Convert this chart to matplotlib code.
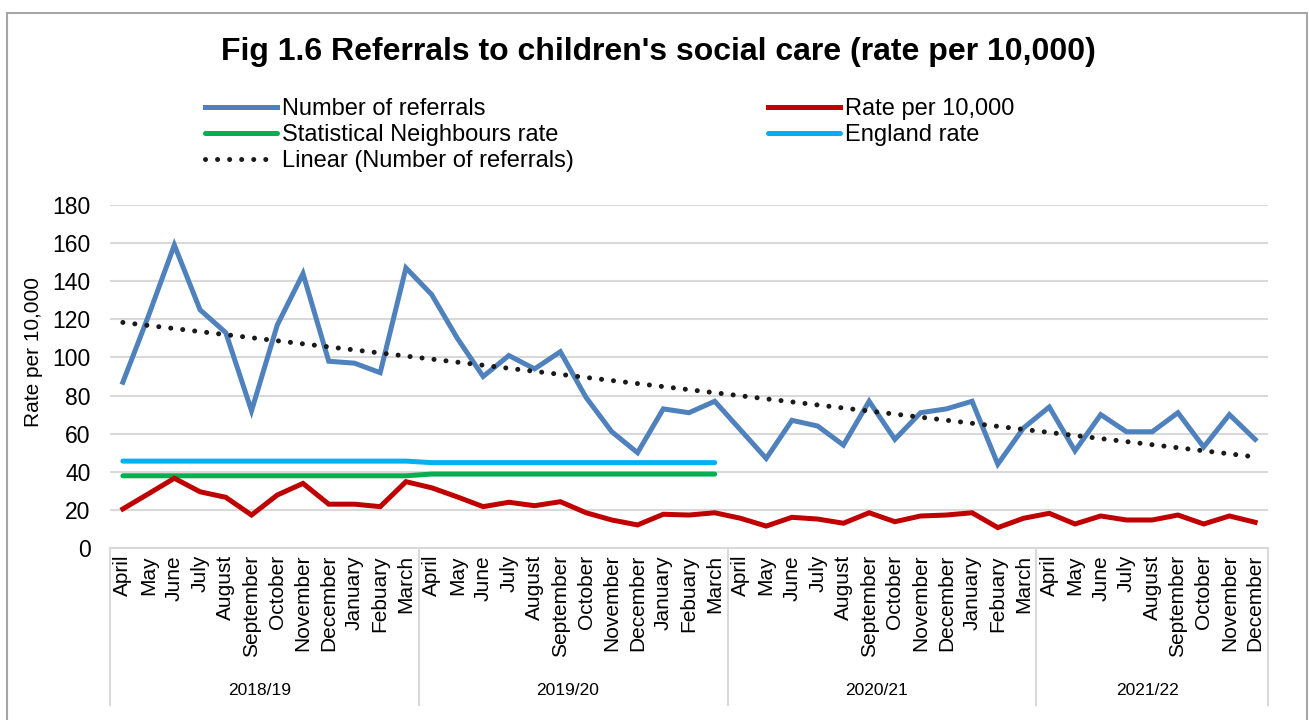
import numpy as np
import matplotlib
matplotlib.use('Agg')
import matplotlib.pyplot as plt
from matplotlib.patches import Rectangle

plt.rcParams['font.family'] = ['Liberation Sans', 'DejaVu Sans']

W, H = 1309, 720

months = ['April', 'May', 'June', 'July', 'August', 'September', 'October',
          'November', 'December', 'January', 'Febuary', 'March']
years = ['2018/19', '2019/20', '2020/21', '2021/22']
months_per_year = [12, 12, 12, 9]

referrals = [87, 122, 159, 125, 113, 72, 117, 144, 98, 97, 92, 147,
             133, 110, 90, 101, 94, 103, 79, 61, 50, 73, 71, 77,
             62, 47, 67, 64, 54, 77, 57, 71, 73, 77, 44, 63,
             74, 51, 70, 61, 61, 71, 53, 70, 57]
rate = [20.5, 28.5, 36.6, 29.5, 26.6, 17.3, 27.8, 33.9, 23, 23, 21.7, 34.8,
        31.6, 26.8, 21.7, 24, 22.2, 24.3, 18.5, 14.7, 12.1, 17.7, 17.3, 18.5,
        15.6, 11.5, 16.1, 15.2, 13, 18.5, 13.8, 16.8, 17.3, 18.5, 10.7, 15.6,
        18.2, 12.6, 16.8, 14.7, 14.7, 17.3, 12.6, 16.8, 13.5]
stat_neigh = [37.9] * 12 + [38.8] * 12
england = [45.6] * 12 + [44.8] * 12

labels = []
for n in months_per_year:
    labels += months[:n]
x = np.arange(len(referrals))

# linear trendline like excel
slope, icpt = np.polyfit(x, referrals, 1)
trend = slope * x + icpt

fig = plt.figure(figsize=(W / 100, H / 100), dpi=100)
ax = fig.add_axes([110 / W, 1 - 548 / H, 1158 / W, 343 / H])

c_blue, c_red, c_green, c_lblue = '#4f81bd', '#c00000', '#00b050', '#00b0f0'
lw = 3.6
h1, = ax.plot(x, referrals, color=c_blue, lw=lw, solid_joinstyle='miter', zorder=4,
              label='Number of referrals')
h2, = ax.plot(x, rate, color=c_red, lw=lw, solid_joinstyle='miter', zorder=4,
              label='Rate per 10,000')
h3, = ax.plot(x[:len(stat_neigh)], stat_neigh, color=c_green, lw=lw, zorder=3,
              solid_capstyle='round', label='Statistical Neighbours rate')
h4, = ax.plot(x[:len(england)], england, color=c_lblue, lw=lw, zorder=3,
              solid_capstyle='round', label='England rate')
h5, = ax.plot(x, trend, color='#1a1a1a', lw=3.6, linestyle=(0, (0.01, 2.4)),
              dash_capstyle='round', zorder=5, label='Linear (Number of referrals)')

ax.set_xlim(-0.5, len(x) - 0.5)
ax.set_ylim(0, 180)
ax.set_yticks(np.arange(0, 181, 20))
ax.grid(axis='y', color='#d9d9d9', lw=1.5)
ax.set_axisbelow(True)
for s in ['top', 'right', 'left']:
    ax.spines[s].set_visible(False)
ax.spines['bottom'].set_color('#d9d9d9')
ax.spines['bottom'].set_linewidth(1.5)
ax.tick_params(axis='y', length=0, pad=14, labelsize=16.5)
ax.set_xticks(x)
ax.set_xticklabels(labels, rotation=90, fontsize=15)
ax.tick_params(axis='x', length=0, pad=5)
ax.set_ylabel('Rate per 10,000', fontsize=15)
ax.yaxis.set_label_coords(-0.058, 0.571)

# year group labels and separators
tr = ax.get_xaxis_transform()
start = 0
bounds = [-0.5]
for yr, n in zip(years, months_per_year):
    ax.text(start + (n - 1) / 2 - 0.2, -0.414, yr, transform=tr, ha='center', va='center',
            fontsize=12.5)
    start += n
    bounds.append(start - 0.5)
for b in bounds:
    ax.plot([b, b], [0, -0.458], transform=tr, color='#d9d9d9', lw=1.5, clip_on=False)

fig.text(658 / W, 1 - 52 / H, "Fig 1.6 Referrals to children's social care (rate per 10,000)",
         ha='center', va='center', fontsize=23, fontweight='bold')

fig.legend([h1, h3, h5, h2, h4],
           [h.get_label() for h in [h1, h3, h5, h2, h4]],
           ncol=2, loc='upper left', bbox_to_anchor=(205 / W, 1 - 98 / H),
           frameon=False, fontsize=17, borderpad=0, handlelength=3.05,
           handletextpad=0.2, columnspacing=8.25, labelspacing=0.18,
           borderaxespad=0)

fig.patches.append(Rectangle((7 / W, -0.05), 1300 / W, 1.05 - 13 / H,
                             transform=fig.transFigure, fill=False,
                             edgecolor='#a6a6a6', lw=1.5))

fig.savefig('out.png', dpi=100, facecolor='white')
